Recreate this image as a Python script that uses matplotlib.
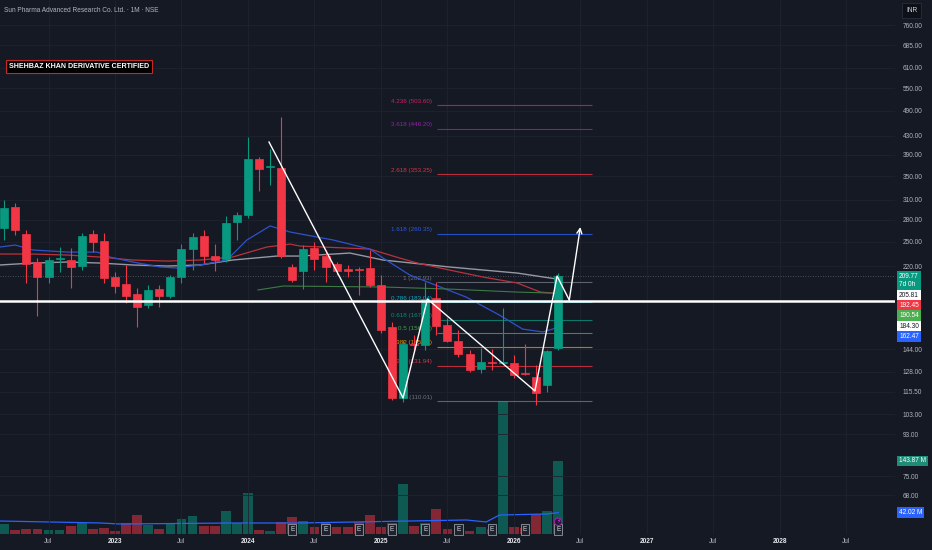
import matplotlib
matplotlib.use('Agg')
import matplotlib.pyplot as plt
import matplotlib.transforms as mtransforms
from matplotlib.ticker import NullLocator, NullFormatter
import pandas as pd

plt.rcParams['font.family'] = ['Liberation Sans', 'DejaVu Sans']

BG = '#151924'
UP = '#089981'
DOWN = '#f23645'
FS = 4.7

# monthly candles, first one is Mar 2022
first_month = '2022-03'
opens = [268.1, 298.7, 259.9, 225.1, 208.4, 228.6, 227.4, 220.5, 259.9, 250.7,
         208.4, 201.0, 191.0, 180.5, 195.9, 189.0, 208.4, 240.6, 257.3, 232.1,
         228.6, 276.5, 286.6, 382.0, 366.6, 364.7, 219.4, 214.9, 241.8, 232.1,
         222.8, 217.1, 217.1, 218.3, 200.0, 161.2, 112.0, 147.7, 147.0, 187.1,
         162.9, 150.0, 140.4, 129.9, 134.7, 134.0, 134.0, 127.3, 124.7, 119.7, 144.7]
highs = [309.6, 304.9, 265.3, 229.7, 230.9, 243.1, 241.8, 261.3, 265.3, 261.3,
         213.8, 221.7, 197.0, 200.0, 200.0, 210.6, 246.8, 261.3, 265.3, 246.8,
         285.1, 291.0, 427.5, 386.0, 402.0, 473.5, 222.8, 245.6, 249.4, 239.4,
         225.1, 221.7, 219.4, 239.4, 210.6, 165.4, 150.8, 154.8, 203.1, 203.1,
         168.9, 158.7, 143.3, 144.7, 144.0, 177.8, 139.6, 147.7, 132.6, 143.3, 212.7]
lows = [252.0, 258.6, 202.1, 170.6, 202.1, 213.8, 197.0, 216.0, 236.9, 202.1,
        191.9, 182.4, 161.2, 177.8, 178.7, 187.1, 202.1, 216.0, 223.9, 214.9,
        225.1, 252.0, 282.2, 324.2, 334.3, 229.7, 203.1, 195.9, 216.0, 203.1,
        210.6, 208.4, 190.0, 198.0, 156.4, 110.8, 109.7, 141.8, 143.3, 154.8,
        149.3, 138.2, 127.9, 127.3, 129.3, 133.3, 124.1, 126.0, 108.0, 115.5, 143.3]
closes = [297.2, 265.3, 222.8, 208.4, 227.4, 229.7, 219.4, 257.3, 249.4, 207.3,
          199.0, 189.0, 178.7, 194.9, 189.0, 208.4, 240.6, 255.9, 232.1, 227.4,
          275.1, 286.6, 382.0, 362.9, 368.5, 232.1, 205.2, 240.6, 228.6, 219.4,
          214.9, 214.9, 216.0, 200.0, 158.7, 112.0, 147.7, 147.0, 186.1, 162.0,
          150.0, 140.4, 129.3, 134.7, 134.0, 134.7, 126.0, 126.7, 114.9, 142.5, 209.77]
# volume in millions
volumes = [19.7, 7.9, 9.9, 9.9, 7.9, 7.9, 15.8, 21.7, 9.9, 11.8,
           5.9, 21.7, 37.4, 17.7, 9.9, 21.7, 29.6, 35.5, 15.8, 15.8,
           45.3, 21.7, 80.8, 7.9, 5.9, 23.7, 33.5, 25.6, 13.8, 23.7,
           13.8, 13.8, 23.7, 37.4, 13.8, 21.7, 98.6, 15.8, 21.7, 49.3,
           9.9, 12.0, 5.9, 13.8, 10.0, 262.0, 13.8, 12.0, 39.4, 45.3, 143.87]
earnings_idx = [26, 29, 32, 35, 38, 41, 44, 47, 50]

# moving averages (month index from Jan 2023, value)
ma_blue_m = [-10.4, -9.0, -7.4, -4.3, -1.6, -0.45, 1.6, 4.1, 5.6, 7.7, 10.1, 11.9, 14.0, 15.8,
             19.7, 23.0, 24.2, 26.6, 31.7, 34.7, 36.8, 38.6, 39.5, 40.2]
ma_blue_v = [243.1, 245.6, 239.4, 236.9, 236.9, 230.9, 225.1, 219.4, 218.3, 221.7, 227.4, 252.0, 270.9, 262.6,
             252.0, 240.6, 229.7, 210.6, 188.0, 171.4, 159.5, 157.2, 159.5, 162.5]
ma_red_m = [-10.4, -7.4, -4.3, -1.35, 1.6, 4.7, 7.7, 10.6, 13.7, 15.8, 16.7, 23.0, 25.7, 27.3,
            30.2, 33.2, 36.3, 38.4, 39.5, 40.2]
ma_red_v = [234.5, 234.5, 233.3, 230.9, 227.4, 226.2, 227.4, 230.9, 243.1, 246.8, 244.3, 240.6, 229.7, 223.9,
            216.0, 208.4, 202.1, 192.9, 191.9, 192.45]
ma_gray_m = [-10.4, -7.4, -4.3, -1.35, 1.6, 4.7, 7.7, 10.6, 14.6, 16.7, 21.2, 24.2, 30.2, 36.3, 39.3, 40.2]
ma_gray_v = [221.7, 223.9, 225.1, 223.9, 221.7, 220.5, 221.7, 227.4, 232.1, 232.1, 235.7, 227.4, 219.4,
             212.7, 207.3, 205.81]
ma_green_m = [12.9, 15.2, 24.2, 30.2, 36.3, 39.5, 40.2]
ma_green_v = [195.0, 199.0, 198.0, 195.9, 192.9, 191.9, 190.54]
vol_ma_m = [-10.4, -1.35, 0.45, 10.6, 16.7, 31.7, 33.5, 34.7, 38.9, 40.0]
vol_ma_v = [25.6, 21.7, 19.7, 21.7, 21.7, 27.6, 23.7, 37.4, 39.4, 42.02]

# fibonacci extension
fib_ratios = ['0', '0.236', '0.382', '0.5', '0.618', '0.786', '1', '1.618', '2.618', '3.618', '4.236']
fib_prices = [110.01, 131.94, 145.51, 156.47, 167.43, 183.04, 202.93, 260.35, 353.25, 446.20, 503.60]
fib_colors = ['#787b86', '#f23645', '#ff9800', '#4caf50', '#089981', '#00bcd4',
              '#787b86', '#2962ff', '#f23645', '#9c27b0', '#e91e63']
fib_start, fib_end = 29.06, 43.05

# hand drawn path
zz_m = [13.9, 26.0, 28.2, 37.9, 39.9, 41.0, 42.0]
zz_p = [416.8, 112.0, 186.1, 116.1, 209.5, 185.2, 269.4]
hline_price = 184.30
last_price = 209.77

price_ticks = [760, 685, 610, 550, 490, 430, 390, 350, 310, 280, 250, 220,
               144, 128, 115.5, 103, 93, 75, 68]
time_ticks = [-6, 0, 6, 12, 18, 24, 30, 36, 42, 48, 54, 60, 66]
time_labels = ['Jul', '2023', 'Jul', '2024', 'Jul', '2025', 'Jul', '2026', 'Jul', '2027', 'Jul', '2028', 'Jul']

dates = pd.date_range(first_month, periods=len(opens), freq='MS')
months = [(d.year - 2023) * 12 + d.month - 1 for d in dates]
up = [c >= o for o, c in zip(opens, closes)]
colors = [UP if u else DOWN for u in up]

fig = plt.figure(figsize=(9.32, 5.5), dpi=100, facecolor=BG)
rect = [0, 16 / 550, 895 / 932, 534 / 550]
vax = fig.add_axes(rect)
ax = fig.add_axes(rect)
for a in (vax, ax):
    a.set_xlim(-10.38, 70.4)
    for s in a.spines.values():
        s.set_visible(False)
vax.set_facecolor(BG)
ax.patch.set_visible(False)

# volume pane
vax.set_ylim(0, 1052)
vax.bar(months, volumes, width=0.88, color=colors, alpha=0.5, linewidth=0)
vax.plot(vol_ma_m, vol_ma_v, color='#2962ff', lw=0.9)
vax.set_xticks([])
vax.set_yticks([])
for i in earnings_idx:
    vax.text(months[i], 9, 'E', ha='center', va='center', fontsize=FS, color='#d1d4dc',
             bbox=dict(boxstyle='square,pad=0.3', fc='#1e222d', ec='#9598a1', lw=0.6))
vax.text(months[-1], 24, '\u26a1', ha='center', va='center', fontsize=4.5, color='#e040fb',
         family=['DejaVu Sans'],
         bbox=dict(boxstyle='circle,pad=0.2', fc='#2a1733', ec='#9c27b0', lw=0.7))

# price pane
ax.set_yscale('log')
ax.set_ylim(55.7, 864.3)
ax.set_yticks(price_ticks)
ax.set_yticklabels([f'{t:.2f}' for t in price_ticks])
ax.yaxis.set_minor_locator(NullLocator())
ax.yaxis.set_minor_formatter(NullFormatter())
ax.yaxis.tick_right()
ax.tick_params(axis='y', length=0, pad=5.5, labelsize=FS, labelcolor='#b2b5be')
ax.set_xticks(time_ticks)
ax.set_xticklabels(time_labels)
ax.tick_params(axis='x', length=0, pad=2.8, labelsize=FS, labelcolor='#b2b5be')
for lab in ax.get_xticklabels():
    if lab.get_text() != 'Jul':
        lab.set_color('#e6e8ee')
        lab.set_fontweight('bold')
ax.grid(True, color='#1f2330', lw=0.6)
ax.set_axisbelow(True)

ax.plot(ma_gray_m, ma_gray_v, color='#9598a1', lw=1.0, zorder=3)
ax.plot(ma_red_m, ma_red_v, color='#b8333d', lw=0.9, zorder=3)
ax.plot(ma_blue_m, ma_blue_v, color='#2f52cc', lw=0.9, zorder=3)
ax.plot(ma_green_m, ma_green_v, color='#3d7a45', lw=0.8, zorder=3)

ax.hlines(fib_prices, fib_start, fib_end, colors=fib_colors, lw=0.8, alpha=0.75, zorder=2)
lab_tr = mtransforms.offset_copy(ax.transData, fig, y=1.2, units='points')
for r, p, c in zip(fib_ratios, fib_prices, fib_colors):
    ax.text(fib_start - 0.45, p, f'{r} ({p:.2f})', ha='right', va='bottom', transform=lab_tr,
            fontsize=FS - 0.2, color=c, alpha=0.9, zorder=2)

ax.axhline(last_price, color='#5d606b', lw=0.6, ls=(0, (1, 2)), zorder=2)

# candles
ax.vlines(months, lows, highs, colors=colors, lw=0.8, zorder=4)
bottoms = [min(o, c) for o, c in zip(opens, closes)]
heights = [abs(c - o) for o, c in zip(opens, closes)]
ax.bar(months, heights, bottom=bottoms, width=0.72, color=colors, edgecolor=colors,
       lw=0.5, zorder=4)

ax.axhline(hline_price, color='white', lw=1.8, zorder=5)
ax.plot(zz_m[:-1], zz_p[:-1], color='white', lw=1.0, zorder=6)
ax.annotate('', xy=(zz_m[-1], zz_p[-1]), xytext=(zz_m[-2], zz_p[-2]),
            arrowprops=dict(arrowstyle='->', color='white', lw=1.0, mutation_scale=9,
                            shrinkA=0, shrinkB=0), zorder=6)

# price tags on the right scale
tr = mtransforms.blended_transform_factory(ax.transAxes, ax.transData)
tags = [('205.81', 'white', '#131722'), ('192.45', DOWN, 'white'), ('190.54', '#4caf50', 'white'),
        ('184.30', 'white', '#131722'), ('162.47', '#2962ff', 'white')]
ax.text(1.0045, last_price, '209.77\n7d 0h', transform=mtransforms.offset_copy(tr, fig, y=-3.2, units='points'),
        ha='left', va='center', fontsize=FS, color='white', linespacing=1.2,
        bbox=dict(boxstyle='square,pad=0.3', fc=UP, ec='none'), clip_on=False)
for k, (txt, fc, tc) in enumerate(tags):
    off = -(13.9 + k * 7.5)
    ax.text(1.0045, last_price, txt, transform=mtransforms.offset_copy(tr, fig, y=off, units='points'),
            ha='left', va='center', fontsize=FS, color=tc,
            bbox=dict(boxstyle='square,pad=0.3', fc=fc, ec='none'), clip_on=False)
vtr = mtransforms.blended_transform_factory(vax.transAxes, vax.transData)
vax.text(1.0045, volumes[-1], '143.87 M', transform=vtr, ha='left', va='center', fontsize=FS,
         color='white', bbox=dict(boxstyle='square,pad=0.3', fc='#1f8c78', ec='none'), clip_on=False)
vax.text(1.0045, vol_ma_v[-1], '42.02 M', transform=vtr, ha='left', va='center', fontsize=FS,
         color='white', bbox=dict(boxstyle='square,pad=0.3', fc='#2962ff', ec='none'), clip_on=False)

fig.text(906 / 932, 1 - 10.5 / 550, 'INR', ha='left', va='center', fontsize=FS, color='#d1d4dc',
         bbox=dict(boxstyle='square,pad=0.6', fc='#0e1018', ec='#2a2e39', lw=0.6))
fig.text(4 / 932, 1 - 10 / 550, 'Sun Pharma Advanced Research Co. Ltd. \u00b7 1M \u00b7 NSE',
         ha='left', va='center', fontsize=4.7, color='#b2b5be')
fig.text(9 / 932, 1 - 66.5 / 550, 'SHEHBAZ KHAN DERIVATIVE CERTIFIED', ha='left', va='center',
         fontsize=5.15, fontweight='bold', color='white',
         bbox=dict(boxstyle='square,pad=0.45', fc='black', ec='#c62828', lw=0.8))

fig.savefig('out.png', dpi=100, facecolor=BG)
